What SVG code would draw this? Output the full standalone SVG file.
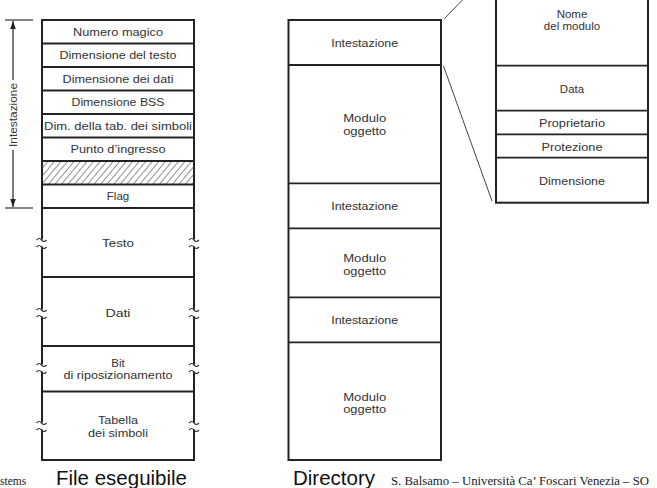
<svg xmlns="http://www.w3.org/2000/svg" width="657" height="488" viewBox="0 0 657 488">
<style>
.box{fill:#fff;stroke:#222;stroke-width:2}
.sep{stroke:#222;stroke-width:1.8}
.lbl{font-family:"Liberation Sans",Arial,sans-serif;font-size:11.5px;fill:#333;text-anchor:middle}
.title{font-family:"Liberation Sans",Arial,sans-serif;font-size:21px;fill:#111}
.foot{font-family:"Liberation Serif","Times New Roman",serif;font-size:11.5px;fill:#222}
.conn{stroke:#444;stroke-width:1;fill:none}
.sq{fill:none;stroke:#333;stroke-width:1.2}
</style>
<defs>
<pattern id="hatch" patternUnits="userSpaceOnUse" width="5" height="5" patternTransform="rotate(40)">
<line x1="0" y1="0" x2="0" y2="5" stroke="#333" stroke-width="1.1"/>
</pattern>
<g id="brk">
<rect x="-2" y="-3.5" width="4" height="7" fill="#fff"/>
<path class="sq" d="M-5,-3 q2.5,-3 5,0 t5,0"/>
<path class="sq" d="M-5,4 q2.5,-3 5,0 t5,0"/>
</g>
<marker id="ah" viewBox="0 0 10 10" refX="10" refY="5" markerWidth="7" markerHeight="7" orient="auto-start-reverse">
<path d="M0,1.5 L10,5 L0,8.5 z" fill="#222"/>
</marker>
</defs>

<g id="file-eseguibile">
<rect class="box" x="42" y="20" width="152" height="440"/>
<rect x="42" y="161" width="152" height="23.5" fill="url(#hatch)"/>
<g class="sep">
<line x1="42" y1="43.5" x2="194" y2="43.5"/>
<line x1="42" y1="67" x2="194" y2="67"/>
<line x1="42" y1="90.5" x2="194" y2="90.5"/>
<line x1="42" y1="114" x2="194" y2="114"/>
<line x1="42" y1="137.5" x2="194" y2="137.5"/>
<line x1="42" y1="161" x2="194" y2="161"/>
<line x1="42" y1="184.5" x2="194" y2="184.5"/>
<line x1="42" y1="208" x2="194" y2="208"/>
<line x1="42" y1="277" x2="194" y2="277"/>
<line x1="42" y1="346" x2="194" y2="346"/>
<line x1="42" y1="391.5" x2="194" y2="391.5"/>
</g>
<use href="#brk" x="41.5" y="243"/><use href="#brk" x="194" y="243"/>
<use href="#brk" x="41.5" y="313"/><use href="#brk" x="194" y="313"/>
<use href="#brk" x="41.5" y="368"/><use href="#brk" x="194" y="368"/>
<use href="#brk" x="41.5" y="426"/><use href="#brk" x="194" y="426"/>
<text class="lbl" x="118" y="35.8" textLength="90" lengthAdjust="spacingAndGlyphs">Numero magico</text>
<text class="lbl" x="118" y="59.3" textLength="117" lengthAdjust="spacingAndGlyphs">Dimensione del testo</text>
<text class="lbl" x="118" y="82.8" textLength="111" lengthAdjust="spacingAndGlyphs">Dimensione dei dati</text>
<text class="lbl" x="118" y="106.3" textLength="93" lengthAdjust="spacingAndGlyphs">Dimensione BSS</text>
<text class="lbl" x="118" y="129.8" textLength="148" lengthAdjust="spacingAndGlyphs">Dim. della tab. dei simboli</text>
<text class="lbl" x="118" y="153.3" textLength="95" lengthAdjust="spacingAndGlyphs">Punto d’ingresso</text>
<text class="lbl" x="118" y="200.3">Flag</text>
<text class="lbl" x="118" y="247" textLength="32" lengthAdjust="spacingAndGlyphs">Testo</text>
<text class="lbl" x="118" y="316.5" textLength="25" lengthAdjust="spacingAndGlyphs">Dati</text>
<text class="lbl" x="118" y="367">Bit</text>
<text class="lbl" x="118" y="379" textLength="109" lengthAdjust="spacingAndGlyphs">di riposizionamento</text>
<text class="lbl" x="118" y="424" textLength="40" lengthAdjust="spacingAndGlyphs">Tabella</text>
<text class="lbl" x="118" y="436.5" textLength="60" lengthAdjust="spacingAndGlyphs">dei simboli</text>
<text class="title" x="56" y="485" textLength="131" lengthAdjust="spacingAndGlyphs">File eseguibile</text>
</g>

<g id="intestazione-dim">
<line x1="5" y1="20" x2="33" y2="20" stroke="#333" stroke-width="1.2"/>
<line x1="5" y1="208" x2="33" y2="208" stroke="#333" stroke-width="1.2"/>
<line x1="13" y1="80" x2="13" y2="21" stroke="#222" stroke-width="1.2" marker-end="url(#ah)"/>
<line x1="13" y1="150" x2="13" y2="207" stroke="#222" stroke-width="1.2" marker-end="url(#ah)"/>
<text class="lbl" transform="translate(17,115) rotate(-90)" x="0" y="0" textLength="64" lengthAdjust="spacingAndGlyphs">Intestazione</text>
</g>

<g id="directory">
<rect class="box" x="288.5" y="20" width="152.5" height="440"/>
<g class="sep">
<line x1="288.5" y1="65" x2="441" y2="65"/>
<line x1="288.5" y1="183.3" x2="441" y2="183.3"/>
<line x1="288.5" y1="228.3" x2="441" y2="228.3"/>
<line x1="288.5" y1="297.3" x2="441" y2="297.3"/>
<line x1="288.5" y1="342.3" x2="441" y2="342.3"/>
</g>
<text class="lbl" x="364.7" y="47" textLength="67" lengthAdjust="spacingAndGlyphs">Intestazione</text>
<text class="lbl" x="364.7" y="122.3" textLength="43" lengthAdjust="spacingAndGlyphs">Modulo</text>
<text class="lbl" x="364.7" y="134.8" textLength="43" lengthAdjust="spacingAndGlyphs">oggetto</text>
<text class="lbl" x="364.7" y="210" textLength="67" lengthAdjust="spacingAndGlyphs">Intestazione</text>
<text class="lbl" x="364.7" y="262.3" textLength="43" lengthAdjust="spacingAndGlyphs">Modulo</text>
<text class="lbl" x="364.7" y="274.5" textLength="43" lengthAdjust="spacingAndGlyphs">oggetto</text>
<text class="lbl" x="364.7" y="324" textLength="67" lengthAdjust="spacingAndGlyphs">Intestazione</text>
<text class="lbl" x="364.7" y="400.7" textLength="43" lengthAdjust="spacingAndGlyphs">Modulo</text>
<text class="lbl" x="364.7" y="413" textLength="43" lengthAdjust="spacingAndGlyphs">oggetto</text>
<text class="title" x="293" y="485" textLength="82" lengthAdjust="spacingAndGlyphs">Directory</text>
</g>

<g id="dettaglio">
<rect class="box" x="496" y="-3" width="152" height="205.7"/>
<g class="sep">
<line x1="496" y1="65.7" x2="648" y2="65.7"/>
<line x1="496" y1="110.7" x2="648" y2="110.7"/>
<line x1="496" y1="134.3" x2="648" y2="134.3"/>
<line x1="496" y1="157.7" x2="648" y2="157.7"/>
</g>
<text class="lbl" x="572" y="18">Nome</text>
<text class="lbl" x="572" y="30">del modulo</text>
<text class="lbl" x="572" y="93.3">Data</text>
<text class="lbl" x="572" y="126.7" textLength="66" lengthAdjust="spacingAndGlyphs">Proprietario</text>
<text class="lbl" x="572" y="150.7" textLength="61" lengthAdjust="spacingAndGlyphs">Protezione</text>
<text class="lbl" x="572" y="185" textLength="66" lengthAdjust="spacingAndGlyphs">Dimensione</text>
</g>

<g id="connectors">
<line class="conn" x1="444.5" y1="18.5" x2="463.5" y2="-1"/>
<line class="conn" x1="443.5" y1="66" x2="492" y2="201"/>
</g>

<g id="footer">
<text class="foot" x="0" y="485" font-size="11">stems</text>
<text class="foot" x="391" y="485" textLength="258" lengthAdjust="spacingAndGlyphs">S. Balsamo – Università Ca’ Foscari Venezia – SO</text>
</g>
</svg>
